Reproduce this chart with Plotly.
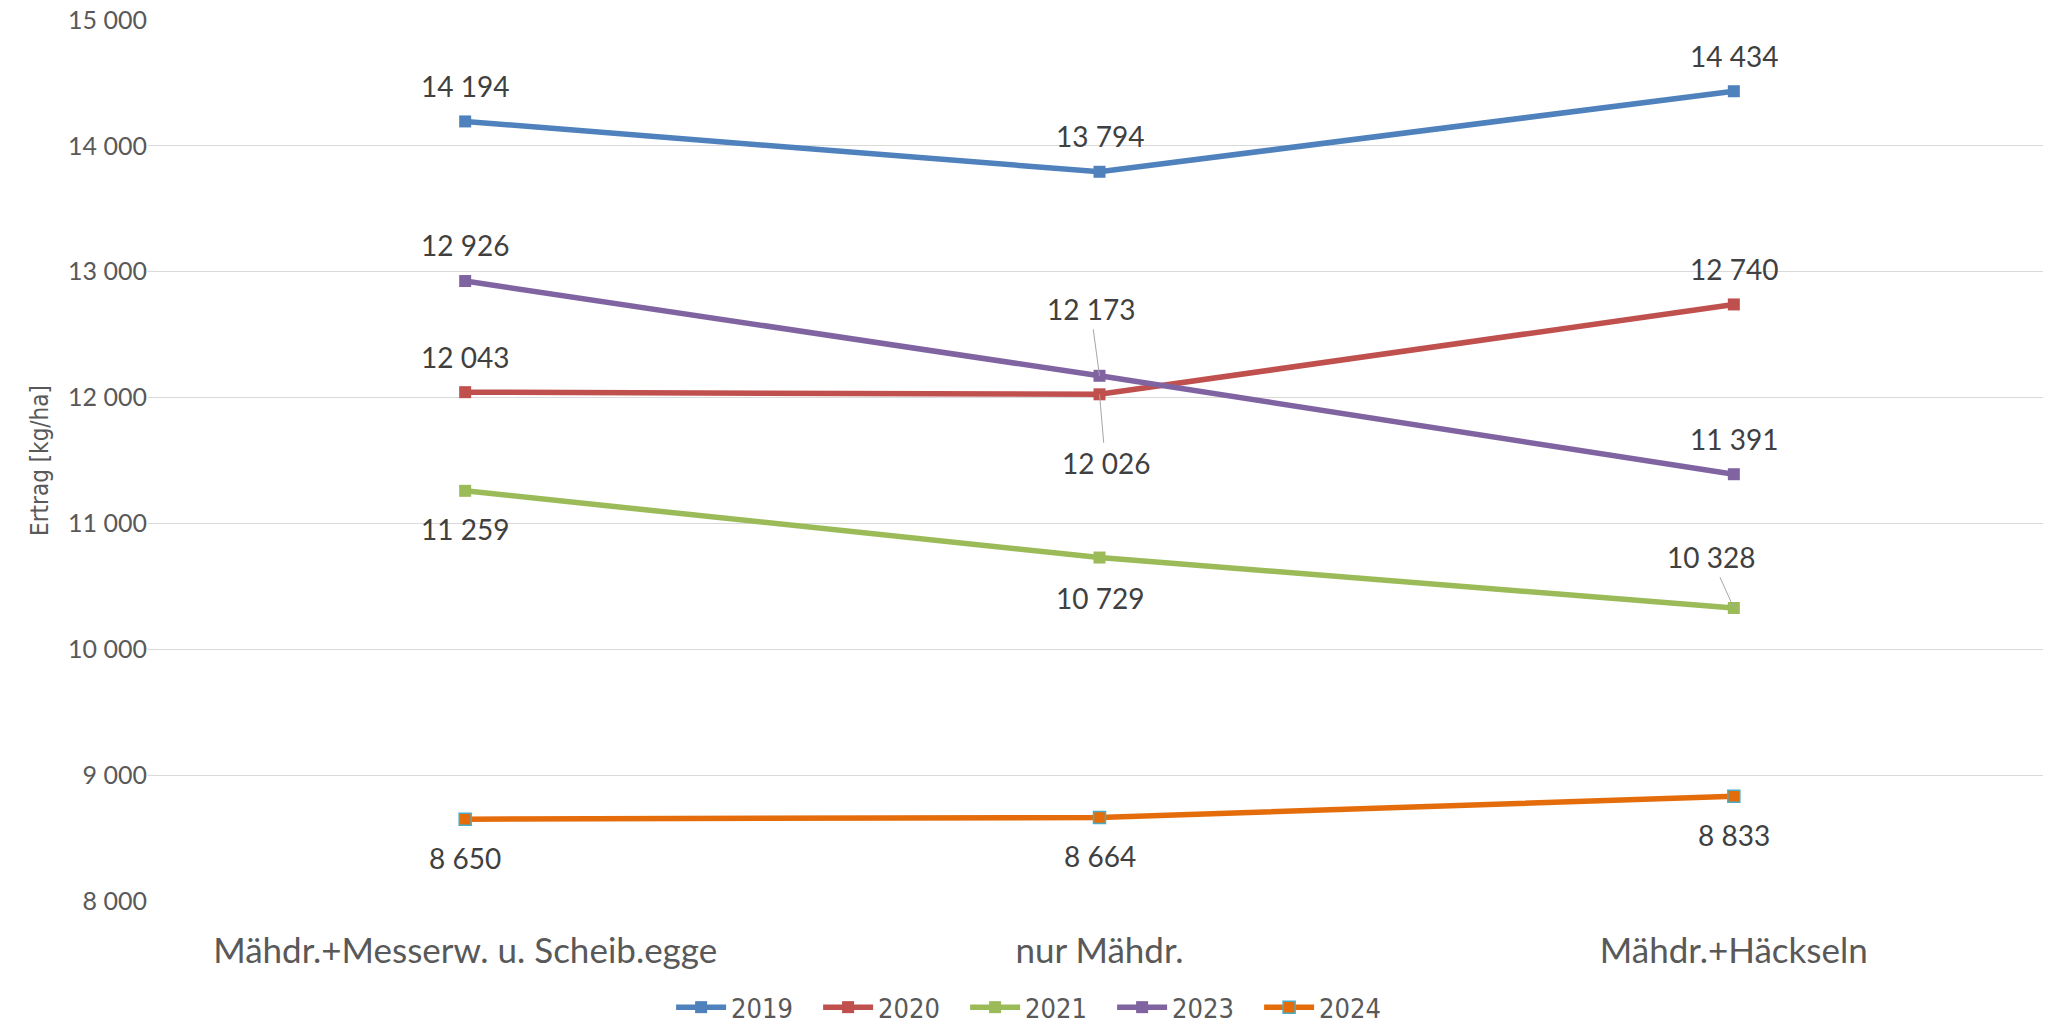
import plotly.graph_objects as go

categories = ["Mähdr.+Messerw. u. Scheib.egge", "nur Mähdr.", "Mähdr.+Häckseln"]
years = ["2019", "2020", "2021", "2023", "2024"]
y2019 = [14194, 13794, 14434]
y2020 = [12043, 12026, 12740]
y2021 = [11259, 10729, 10328]
y2023 = [12926, 12173, 11391]
y2024 = [8650, 8664, 8833]
y_ticks = [8000, 9000, 10000, 11000, 12000, 13000, 14000, 15000]

series = [y2019, y2020, y2021, y2023, y2024]
colors = ["#4F81BD", "#C0504D", "#9BBB59", "#8064A2", "#E46C0A"]
marker_lines = ["#4F81BD", "#C0504D", "#9BBB59", "#8064A2", "#4BACC6"]

# label placement per point: ("s", yshift) or ("a", ax, ay) with leader line
placements = [
    [("s", 35), ("s", 36), ("s", 35)],
    [("s", 35), ("a", 6, 69), ("s", 35)],
    [("s", -38), ("s", -40), ("a", -23, -51)],
    [("s", 36), ("a", -9, -67), ("s", 35)],
    [("s", -39), ("s", -39), ("s", -39)],
]

def fmt(v):
    return f"{v:,}".replace(",", " ")

label_font = dict(family="Lato", size=28, color="#404040")
narrow = "Liberation Sans Narrow, DejaVu Sans Condensed, Roboto Condensed, sans-serif"

fig = go.Figure()
annotations = []
for name, vals, col, mlc, plc in zip(years, series, colors, marker_lines, placements):
    fig.add_trace(go.Scatter(
        x=categories, y=vals, name=name, mode="lines+markers",
        line=dict(color=col, width=5.5),
        marker=dict(symbol="square", size=12, color=col,
                    line=dict(color=mlc, width=1.5 if mlc != col else 0)),
    ))
    for c, v, p in zip(categories, vals, plc):
        if p[0] == "s":
            annotations.append(dict(x=c, y=v, text=fmt(v), showarrow=False,
                                    yshift=p[1], xref="x", yref="y", font=label_font))
        else:
            annotations.append(dict(x=c, y=v, text=fmt(v), showarrow=True,
                                    ax=p[1], ay=p[2], arrowhead=0, arrowwidth=1,
                                    arrowcolor="#A6A6A6", standoff=0, startstandoff=2,
                                    xref="x", yref="y", font=label_font))

fig.update_layout(
    width=2051, height=1025,
    paper_bgcolor="white", plot_bgcolor="white",
    margin=dict(l=140, r=8, t=12, b=132, autoexpand=False),
    separators=", ",
    annotations=annotations,
    showlegend=True,
    legend=dict(orientation="h", x=0.468, xanchor="center", y=-0.121, yanchor="middle",
                font=dict(family=narrow, size=27, color="#595959"),
                entrywidth=82, itemwidth=50),
    xaxis=dict(showgrid=False, showline=False, zeroline=False, automargin=False,
               tickfont=dict(family="Lato", size=35, color="#595959"),
               ticklabelstandoff=26, range=[-0.5, 2.5]),
    yaxis=dict(range=[8000, 15000], tickvals=y_ticks, tickformat=",d",
               showgrid=True, gridcolor="#D9D9D9", gridwidth=1.3, zeroline=False,
               showline=False, automargin=False, ticklabeloverflow="allow",
               tickfont=dict(family="Lato", size=25, color="#595959"),
               ticklabelstandoff=0,
               title=dict(text="Ertrag [kg/ha]", standoff=12,
                          font=dict(family=narrow, size=24, color="#595959"))),
)

fig.write_html("out.html")
